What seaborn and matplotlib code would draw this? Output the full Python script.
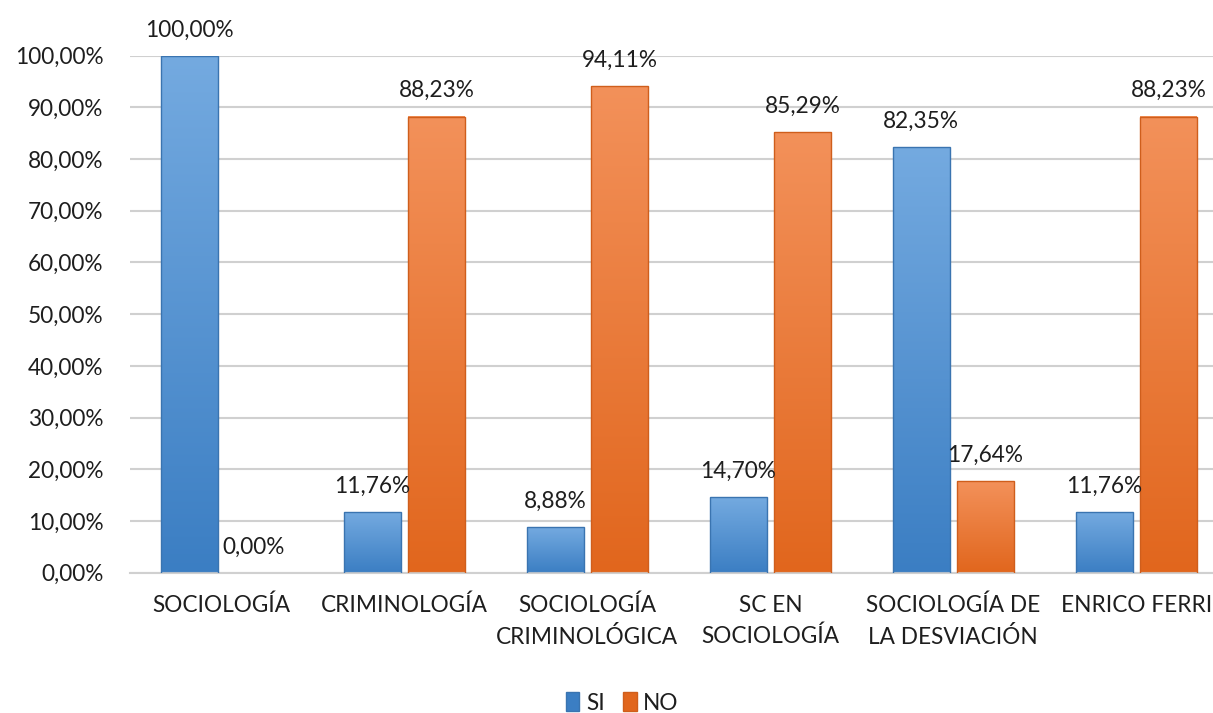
import matplotlib.pyplot as plt
import matplotlib.colors as mcolors
from matplotlib.patches import Patch
import numpy as np
import pandas as pd
import seaborn as sns

categories = ["SOCIOLOGÍA", "CRIMINOLOGÍA", "SOCIOLOGÍA\nCRIMINOLÓGICA",
              "SC EN\nSOCIOLOGÍA", "SOCIOLOGÍA DE\nLA DESVIACIÓN", "ENRICO FERRI"]
si = [100.00, 11.76, 8.88, 14.70, 82.35, 11.76]
no = [0.00, 88.23, 94.11, 85.29, 17.64, 88.23]
series = ["SI", "NO"]

# gradient colours (top, bottom, edge) per series
grad = {"SI": ("#74aae0", "#3b7ec3", "#3a74b0"),
        "NO": ("#f3915a", "#e1661d", "#cf5e1c")}

df = pd.DataFrame({
    "categoria": categories * 2,
    "serie": ["SI"] * len(si) + ["NO"] * len(no),
    "valor": si + no,
})

sns.set_style("white")
plt.rcParams['font.family'] = ['Lato', 'DejaVu Sans']
txt = "#1e1e1e"
fs = 16.3

fig = plt.figure(figsize=(12.13, 7.13), dpi=100)
ax = fig.add_axes([0.1072, 0.1968, 0.905, 0.7251])

sns.barplot(data=df, x="categoria", y="valor", hue="serie", hue_order=series,
            palette={"SI": grad["SI"][1], "NO": grad["NO"][1]},
            width=0.70, gap=0.11, legend=False, ax=ax)

ax.set_ylim(0, 100)
ax.set_xlim(-0.5, len(categories) - 0.5)

# vertical gradient fill on each bar
for cont, s in zip(ax.containers, series):
    top, bot, edge = grad[s]
    cmap = mcolors.LinearSegmentedColormap.from_list(s, [bot, top])
    g = np.linspace(0, 1, 256).reshape(-1, 1)
    for p in cont.patches:
        h = p.get_height()
        if h <= 0:
            p.set_visible(False)
            continue
        x0 = p.get_x()
        w = p.get_width()
        ax.imshow(g, cmap=cmap, origin="lower", aspect="auto",
                  extent=[x0, x0 + w, 0, h], zorder=2)
        p.set_facecolor("none")
        p.set_edgecolor(edge)
        p.set_linewidth(1.0)
        p.set_zorder(3)
    labels = [f"{v:.2f}%".replace(".", ",") for v in cont.datavalues]
    ax.bar_label(cont, labels=labels, padding=11, fontsize=fs, color=txt)

ax.set_xlim(-0.5, len(categories) - 0.5)
ax.set_ylim(0, 100)

ax.set_yticks(np.arange(0, 101, 10))
ax.set_yticklabels([f"{v:.2f}%".replace(".", ",") for v in np.arange(0, 101, 10)])
ax.yaxis.grid(True, color="#d0d0d0", linewidth=1.5, zorder=0)
ax.set_axisbelow(True)
ax.tick_params(axis="both", length=0, labelsize=fs, labelcolor=txt)
ax.tick_params(axis="y", pad=19)
ax.tick_params(axis="x", pad=16)
for lbl in ax.get_xticklabels():
    lbl.set_linespacing(1.55)
ax.set_xlabel("")
ax.set_ylabel("")
for side in ["top", "right", "left"]:
    ax.spines[side].set_visible(False)
ax.spines["bottom"].set_color("#d0d0d0")
ax.spines["bottom"].set_linewidth(1.5)

handles = [Patch(facecolor=grad[s][1], edgecolor=grad[s][2]) for s in series]
fig.legend(handles, series, loc="center", bbox_to_anchor=(0.513, 0.014), ncol=2,
           frameon=False, fontsize=fs, handlelength=0.6, handleheight=0.9,
           handletextpad=0.3, columnspacing=0.8, labelcolor=txt)

plt.savefig("out.png", dpi=100)
